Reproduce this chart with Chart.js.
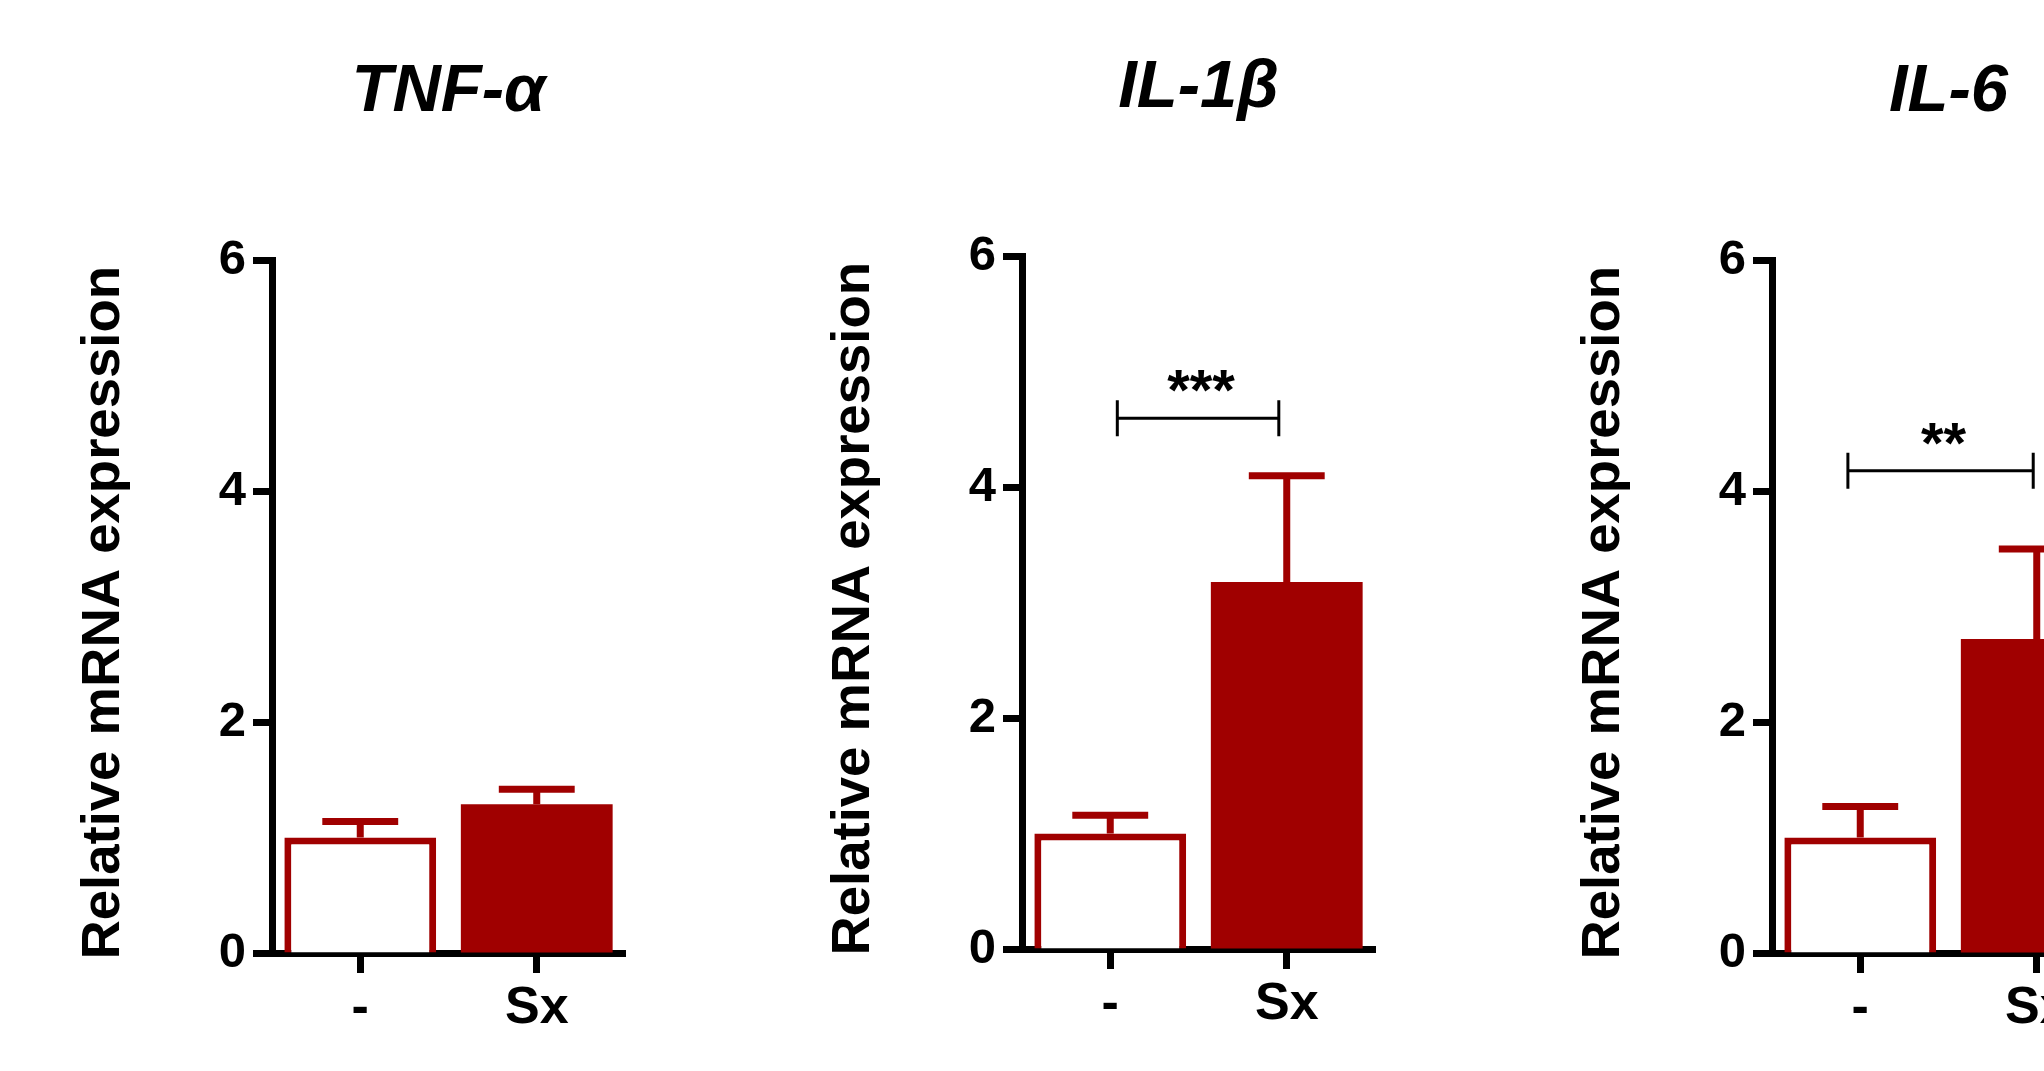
<!DOCTYPE html>
<html><head><meta charset="utf-8">
<script src="https://cdn.jsdelivr.net/npm/chart.js@4.4.1/dist/chart.umd.min.js"></script>
<style>
html,body{margin:0;padding:0;background:#fff;width:2044px;height:1071px;overflow:hidden;position:relative}
canvas{position:absolute}
</style></head><body>
<canvas id="c0" width="750" height="1071" style="left:0px;top:0px"></canvas>
<canvas id="c1" width="750" height="1071" style="left:750px;top:-4px"></canvas>
<canvas id="c2" width="750" height="1071" style="left:1500px;top:0px"></canvas>
<script>
// ---- data ----
const categories = ['-', 'Sx'];
const panelTitles = ['TNF-α', 'IL-1β', 'IL-6'];
const yAxisTitle = 'Relative mRNA expression';
const yTickValues = [0, 2, 4, 6];
const tnfMean = [1.0, 1.29];
const tnfErr = [0.14, 0.13];
const il1bMean = [1.0, 3.18];
const il1bErr = [0.16, 0.92];
const il6Mean = [1.0, 2.72];
const il6Err = [0.27, 0.78];
const il1bSig = { from: 0.04, to: 0.955, y: 4.6, label: '***' };
const il6Sig = { from: -0.07, to: 0.98, y: 4.18, label: '**' };

// ---- style ----
const RED = '#a00000';
const FONT = '"Liberation Sans", Arial, Helvetica, sans-serif';

const errorBarPlugin = {
  id: 'errorBars',
  afterDatasetsDraw(chart) {
    const ctx = chart.ctx, ys = chart.scales.y;
    const ds = chart.data.datasets[0];
    const meta = chart.getDatasetMeta(0);
    ctx.save();
    ctx.strokeStyle = RED; ctx.lineWidth = 7; ctx.lineCap = 'butt';
    meta.data.forEach((bar, i) => {
      const top = ys.getPixelForValue(ds.data[i] + ds.errors[i]);
      const half = bar.width / 4;
      ctx.beginPath();
      ctx.moveTo(bar.x, bar.y); ctx.lineTo(bar.x, top);
      ctx.moveTo(bar.x - half, top); ctx.lineTo(bar.x + half, top);
      ctx.stroke();
    });
    ctx.restore();
  }
};

const sigPlugin = {
  id: 'significance',
  afterDatasetsDraw(chart, args, opts) {
    if (!opts || typeof opts.y !== 'number') return;
    const xs = chart.scales.x, ys = chart.scales.y, ctx = chart.ctx;
    const x1 = xs.getPixelForValue(opts.from), x2 = xs.getPixelForValue(opts.to);
    const py = ys.getPixelForValue(opts.y);
    ctx.save();
    ctx.strokeStyle = '#000'; ctx.lineWidth = 3;
    ctx.beginPath();
    ctx.moveTo(x1, py); ctx.lineTo(x2, py);
    ctx.moveTo(x1, py - 18); ctx.lineTo(x1, py + 18);
    ctx.moveTo(x2, py - 18); ctx.lineTo(x2, py + 18);
    ctx.stroke();
    ctx.fillStyle = '#000';
    ctx.font = 'bold 58px ' + FONT;
    ctx.textAlign = 'center'; ctx.textBaseline = 'alphabetic';
    ctx.fillText(opts.label, (x1 + x2) / 2 + 3, py - 8);
    ctx.restore();
  }
};

// y-axis title drawn rotated, centred a little below the plot-area middle (as in the original)
const yTitlePlugin = {
  id: 'yTitle',
  afterDraw(chart, args, opts) {
    const ctx = chart.ctx, a = chart.chartArea;
    ctx.save();
    ctx.translate(opts.x, (a.top + a.bottom) / 2 + opts.dy);
    ctx.rotate(-Math.PI / 2);
    ctx.fillStyle = '#000';
    ctx.font = 'bold 54.5px ' + FONT;
    ctx.textAlign = 'center'; ctx.textBaseline = 'middle';
    ctx.fillText(opts.text, 0, 0);
    ctx.restore();
  }
};

function makePanel(id, title, mean, err, sig) {
  return new Chart(document.getElementById(id), {
    type: 'bar',
    data: {
      labels: categories,
      datasets: [{
        data: mean, errors: err,
        backgroundColor: ['#ffffff', RED], borderColor: RED, borderWidth: [7, 0],
        barPercentage: 0.86, categoryPercentage: 1.0
      }]
    },
    options: {
      responsive: false, animation: false, devicePixelRatio: 1,
      layout: { padding: { left: 0, right: 125, top: 0, bottom: 0 } },
      plugins: {
        legend: { display: false }, tooltip: { enabled: false },
        title: {
          display: true, text: title, fullSize: false, color: '#000',
          font: { family: FONT, size: 67, weight: 'bold', style: 'italic' },
          padding: { top: 52, bottom: 128.2 }
        },
        significance: sig || {},
        yTitle: { text: yAxisTitle, x: 104, dy: 6 }
      },
      scales: {
        x: {
          type: 'category', offset: true, z: 1,
          border: { display: true, color: '#000', width: 7 },
          grid: { offset: false, drawOnChartArea: false, drawTicks: true, tickLength: 20, tickWidth: 7, tickColor: '#000', color: '#000' },
          ticks: { color: '#000', font: { family: FONT, size: 52, weight: 'bold' }, padding: 4, maxRotation: 0 },
          afterFit: s => { s.height = 118; }
        },
        y: {
          min: 0, max: 6,
          border: { display: true, color: '#000', width: 7 },
          grid: { drawOnChartArea: false, drawTicks: true, tickLength: 19, tickWidth: 7, tickColor: '#000', color: '#000' },
          ticks: { color: '#000', font: { family: FONT, size: 49, weight: 'bold' }, padding: 7 },
          afterBuildTicks: s => { s.ticks = yTickValues.map(v => ({ value: v })); },
          afterFit: s => { s.width = 272; }
        }
      }
    },
    plugins: [errorBarPlugin, sigPlugin, yTitlePlugin]
  });
}

makePanel('c0', panelTitles[0], tnfMean, tnfErr, null);
makePanel('c1', panelTitles[1], il1bMean, il1bErr, il1bSig);
makePanel('c2', panelTitles[2], il6Mean, il6Err, il6Sig);
</script>
</body></html>
